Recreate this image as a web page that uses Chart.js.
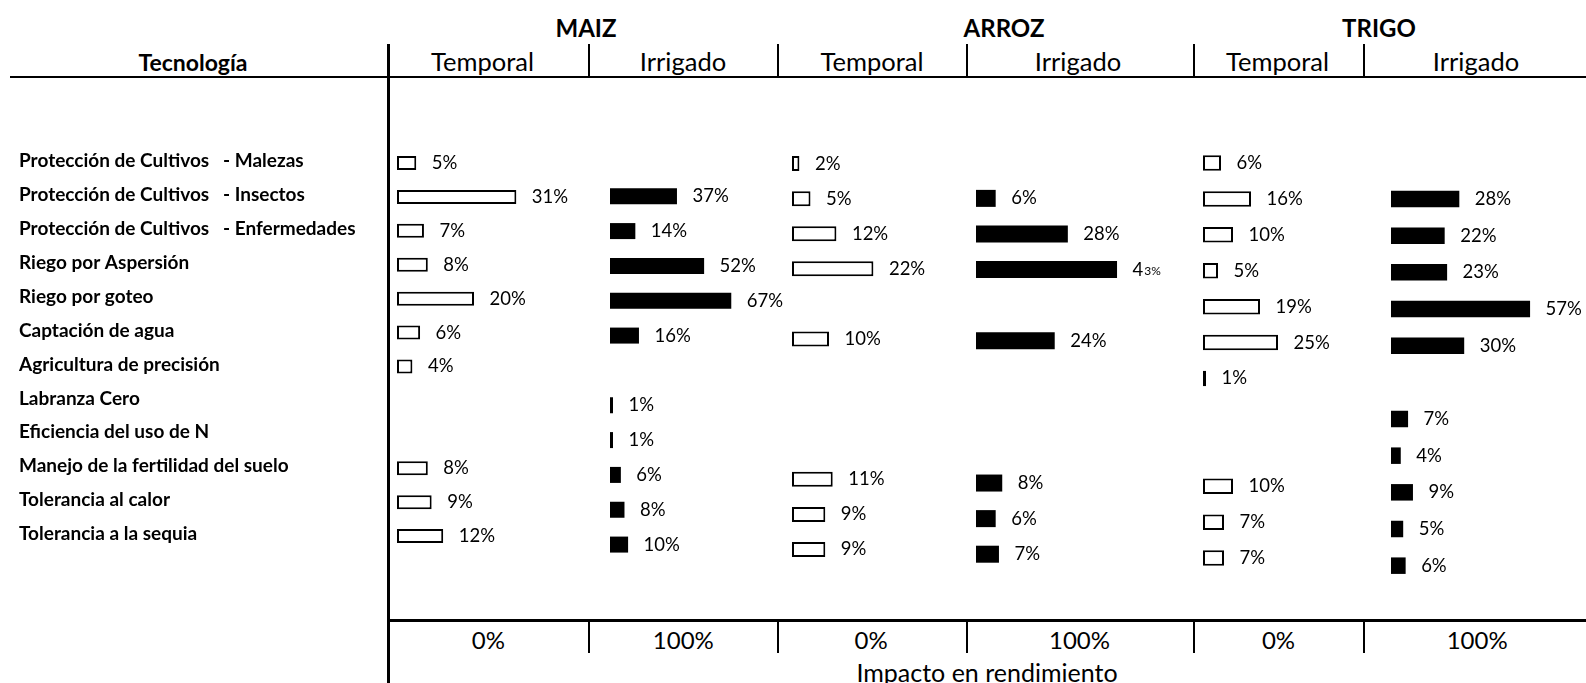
<!DOCTYPE html>
<html><head><meta charset="utf-8">
<script src="https://cdn.jsdelivr.net/npm/chart.js@4.4.1/dist/chart.umd.min.js"></script>
<style>
html,body{margin:0;padding:0;background:#fff;}
body{width:1586px;height:683px;position:relative;overflow:hidden;font-family:Lato,sans-serif;color:#000;}
.t{position:absolute;transform:translate(-50%,-50%);line-height:1;white-space:nowrap;}
.b{font-weight:bold;}
.ln{position:absolute;background:#000;}
canvas{position:absolute;}
</style></head><body>
<script>
// ---------- data ----------
const technologies = [
  'Protección de Cultivos   - Malezas',
  'Protección de Cultivos   - Insectos',
  'Protección de Cultivos   - Enfermedades',
  'Riego por Aspersión',
  'Riego por goteo',
  'Captación de agua',
  'Agricultura de precisión',
  'Labranza Cero',
  'Eficiencia del uso de N',
  'Manejo de la fertilidad del suelo',
  'Tolerancia al calor',
  'Tolerancia a la sequia'
];
const crops = ['MAIZ', 'ARROZ', 'TRIGO'];
const regimes = ['Temporal', 'Irrigado'];
const scaleTicks = ['0%', '100%'];
const columnTitle = 'Tecnología';
const axisTitle = 'Impacto en rendimiento';

const maizTemporal  = [5, 31, 7, 8, 20, 6, 4, null, null, 8, 9, 12];
const maizIrrigado  = [null, 37, 14, 52, 67, 16, null, 1, 1, 6, 8, 10];
const arrozTemporal = [2, 5, 12, 22, null, 10, null, null, null, 11, 9, 9];
const arrozIrrigado = [null, 6, 28, 43, null, 24, null, null, null, 8, 6, 7];
const trigoTemporal = [6, 16, 10, 5, 19, 25, 1, null, null, 10, 7, 7];
const trigoIrrigado = [null, 28, 22, 23, 57, 30, null, 7, 4, 9, 5, 6];

// ---------- layout ----------
const FONT = 'Lato, sans-serif';
const panels = [
  {data: maizTemporal,  left: 397, row0: 163.3, step: 33.9,  ppp: 3.85, thick: 14,   fill: '#ffffff', border: 2, labels: true},
  {data: maizIrrigado,  left: 610, row0: 161.2, step: 34.82, ppp: 1.81, thick: 16,   fill: '#000000', border: 0},
  {data: arrozTemporal, left: 792, row0: 163.3, step: 35.1,  ppp: 3.70, thick: 15,   fill: '#ffffff', border: 2},
  {data: arrozIrrigado, left: 976, row0: 162.7, step: 35.62, ppp: 3.28, thick: 17,   fill: '#000000', border: 0, smallTail: 3},
  {data: trigoTemporal, left: 1203, row0: 162.8, step: 35.93, ppp: 3.00, thick: 15.5, fill: '#ffffff', border: 2},
  {data: trigoIrrigado, left: 1391, row0: 162.3, step: 36.68, ppp: 2.44, thick: 16.5, fill: '#000000', border: 0}
];
const labelLeft = 19;
const plotW = 205;

function addText(txt, x, y, size, bold) {
  const d = document.createElement('div');
  d.className = 't' + (bold ? ' b' : '');
  d.style.left = x + 'px'; d.style.top = y + 'px'; d.style.fontSize = size + 'px';
  d.textContent = txt;
  document.body.appendChild(d);
}
function addLine(x, y, w, h) {
  const d = document.createElement('div');
  d.className = 'ln';
  d.style.left = x + 'px'; d.style.top = y + 'px'; d.style.width = w + 'px'; d.style.height = h + 'px';
  document.body.appendChild(d);
}

// header / footer text
const cropX = [586, 1004, 1379];
const regimeX = [[482.5, 683], [872, 1078], [1277.5, 1476]];
const tickX = [[488.3, 683.3], [871.2, 1079.5], [1278.5, 1477.2]];
crops.forEach((c, i) => {
  addText(c, cropX[i], 28, 24, true);
  regimes.forEach((r, j) => {
    addText(r, regimeX[i][j], 61.5, 25.5, false);
    addText(scaleTicks[j], tickX[i][j], 640, 24, false);
  });
});
addText(columnTitle, 193, 61.5, 23, true);
addText(axisTitle, 987, 672, 25, false);

// rules
addLine(387, 44, 2.5, 639);
addLine(10, 76, 1576, 2);
addLine(387, 619, 1199, 2.5);
[589, 778, 966.5, 1194, 1364].forEach(x => {
  addLine(x - 1, 44, 2, 33);
  addLine(x - 1, 620, 2, 33);
});

// value label plugin
const valueLabels = {
  id: 'valueLabels',
  afterDatasetsDraw(chart, args, opts) {
    const ctx = chart.ctx;
    const ds = chart.data.datasets[0];
    const meta = chart.getDatasetMeta(0);
    ctx.save();
    ctx.fillStyle = '#000';
    ctx.textBaseline = 'middle';
    ctx.textAlign = 'left';
    meta.data.forEach((bar, i) => {
      const v = ds.data[i];
      if (v === null || v === undefined) return;
      const txt = v + '%';
      const x = bar.x + opts.gap;
      const y = bar.y + opts.dy;
      if (opts.smallTail === i) {
        ctx.font = opts.size + 'px ' + FONT;
        const first = txt.slice(0, 1);
        ctx.fillText(first, x, y);
        const w = ctx.measureText(first).width;
        ctx.font = opts.smallSize + 'px ' + FONT;
        ctx.fillText(txt.slice(1), x + w + 1, y + 2);
      } else {
        ctx.font = opts.size + 'px ' + FONT;
        ctx.fillText(txt, x, y);
      }
    });
    ctx.restore();
  }
};

panels.forEach(p => {
  const axisW = p.labels ? p.left - labelLeft : 0;
  const top = Math.round(p.row0 - p.step / 2);
  const height = Math.round(p.step * 12);
  const cv = document.createElement('canvas');
  cv.width = axisW + plotW;
  cv.height = height;
  cv.style.left = (p.left - axisW) + 'px';
  cv.style.top = top + 'px';
  document.body.appendChild(cv);
  new Chart(cv, {
    type: 'bar',
    data: {
      labels: technologies,
      datasets: [{
        data: p.data,
        backgroundColor: p.fill,
        borderColor: '#000000',
        borderWidth: p.border,
        borderSkipped: false,
        barThickness: p.thick,
        minBarLength: 3,
        inflateAmount: 0
      }]
    },
    options: {
      indexAxis: 'y',
      responsive: false,
      animation: false,
      events: [],
      devicePixelRatio: 1,
      layout: {padding: 0},
      plugins: {
        legend: {display: false},
        tooltip: {enabled: false},
        valueLabels: {gap: 15.5, size: 18.5, smallSize: 12, smallTail: p.smallTail, dy: 0}
      },
      scales: {
        x: {display: false, min: 0, max: plotW / p.ppp},
        y: {
          display: !!p.labels,
          grid: {display: false},
          border: {display: false},
          ticks: {
            crossAlign: 'far', autoSkip: false, padding: 0, labelOffset: -2,
            color: '#000', font: {family: FONT, size: 19, weight: 'bold'}
          },
          afterFit: s => { s.width = axisW; s.paddingTop = 0; s.paddingBottom = 0; }
        }
      }
    },
    plugins: [valueLabels]
  });
});
</script>
</body></html>
